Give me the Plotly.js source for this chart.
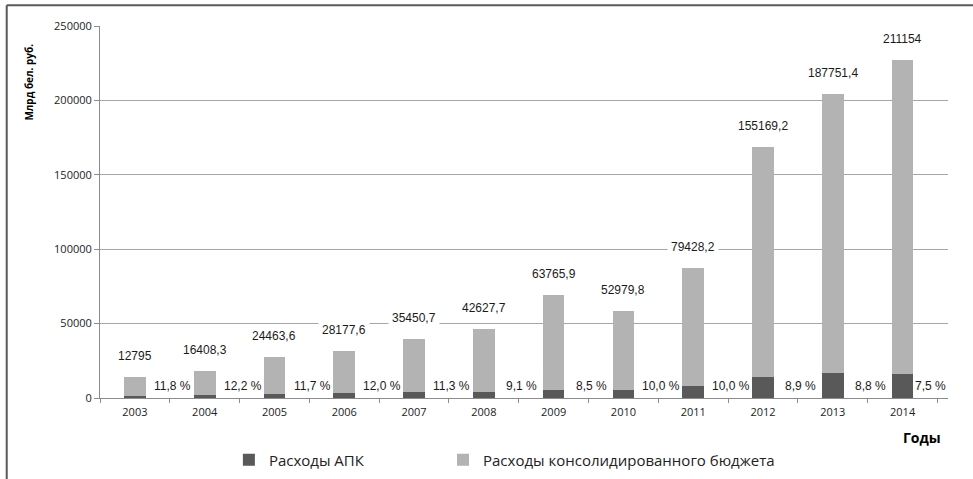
<!DOCTYPE html>
<html>
<head>
<meta charset="utf-8">
<script src="https://cdn.plot.ly/plotly-3.0.1.min.js"></script>
<style>
  html, body { margin: 0; padding: 0; background: #fff; }
  #chart { width: 973px; height: 479px; }
</style>
</head>
<body>
<div id="chart"></div>
<script>
// Data
const years = ['2003','2004','2005','2006','2007','2008','2009','2010','2011','2012','2013','2014'];
const budgetValues = [12795, 16408.3, 24463.6, 28177.6, 35450.7, 42627.7, 63765.9, 52979.8, 79428.2, 155169.2, 187751.4, 211154];
const apkValues = [1510, 2000, 2860, 3380, 4010, 3880, 5420, 5300, 7940, 13810, 16520, 15840];
const budgetLabels = ['12795','16408,3','24463,6','28177,6','35450,7','42627,7','63765,9','52979,8','79428,2','155169,2','187751,4','211154'];
const shareLabels = ['11,8 %','12,2 %','11,7 %','12,0 %','11,3 %','9,1 %','8,5 %','10,0 %','10,0 %','8,9 %','8,8 %','7,5 %'];
const seriesNames = ['Расходы АПК', 'Расходы консолидированного бюджета'];

const darkGray = '#595959';
const lightGray = '#b3b3b3';

const traces = [
  {
    type: 'bar', x: years, y: apkValues, name: seriesNames[0], legend: 'legend',
    marker: { color: darkGray, line: { width: 0 } }, hoverinfo: 'x+y'
  },
  {
    type: 'bar', x: years, y: budgetValues, name: seriesNames[1], legend: 'legend2',
    marker: { color: lightGray, line: { width: 0 } }, hoverinfo: 'x+y'
  }
];

const annotations = [];
years.forEach((yr, i) => {
  annotations.push({
    x: i, y: apkValues[i] + budgetValues[i], xref: 'x', yref: 'y',
    text: budgetLabels[i], showarrow: false, yanchor: 'middle', yshift: 21,
    font: { family: 'Liberation Sans, Arial, sans-serif', size: 12, color: '#1a1a1a' },
    bgcolor: '#ffffff', borderpad: 3
  });
  annotations.push({
    x: i + 0.5, y: 0, xref: 'x', yref: 'y',
    text: shareLabels[i], showarrow: false, yanchor: 'middle', yshift: 12,
    xshift: i === years.length - 1 ? -7 : 3,
    font: { family: 'Liberation Sans, Arial, sans-serif', size: 12, color: '#1a1a1a' }
  });
});
annotations.push({
  xref: 'paper', yref: 'paper', x: -0.084, y: 0.85, text: 'Млрд бел. руб.',
  textangle: -90, showarrow: false, xanchor: 'center', yanchor: 'middle',
  font: { family: 'Open Sans, sans-serif', size: 10, color: '#000', weight: 700 }
});
annotations.push({
  xref: 'paper', yref: 'paper', x: 0.969, y: -0.107, text: 'Годы',
  showarrow: false, xanchor: 'center', yanchor: 'middle',
  font: { family: 'Open Sans, sans-serif', size: 14, color: '#000', weight: 700 }
});

const legendFont = { family: 'Open Sans, sans-serif', size: 15, color: '#222' };

const layout = {
  width: 973, height: 479,
  margin: { l: 100, r: 25, t: 26, b: 81, autoexpand: false },
  barmode: 'stack',
  bargap: 0.69,
  paper_bgcolor: '#ffffff', plot_bgcolor: '#ffffff',
  font: { family: 'Open Sans, sans-serif', color: '#333' },
  showlegend: true,
  legend: {
    orientation: 'h', x: 0.152, xanchor: 'left', y: -0.167, yanchor: 'middle',
    font: legendFont, itemwidth: 30, bgcolor: 'rgba(0,0,0,0)'
  },
  legend2: {
    orientation: 'h', x: 0.4045, xanchor: 'left', y: -0.167, yanchor: 'middle',
    font: legendFont, itemwidth: 30, bgcolor: 'rgba(0,0,0,0)'
  },
  xaxis: {
    type: 'category', tickson: 'boundaries', ticks: 'outside', ticklen: 4,
    tickcolor: '#8c8c8c', showline: true, linecolor: '#8c8c8c', linewidth: 1,
    showgrid: false, ticklabelstandoff: 4,
    tickfont: { family: 'Open Sans, sans-serif', size: 11, color: '#222' },
    fixedrange: true
  },
  yaxis: {
    range: [0, 250000], dtick: 50000, tickformat: 'd', ticks: 'outside', ticklen: 5,
    tickcolor: '#8c8c8c', showline: true, linecolor: '#8c8c8c', linewidth: 1,
    gridcolor: '#a6a6a6', gridwidth: 1, zeroline: false,
    tickfont: { family: 'Open Sans, sans-serif', size: 11, color: '#222' },
    fixedrange: true
  },
  annotations: annotations,
  shapes: [
    { type: 'line', xref: 'paper', yref: 'paper', x0: -0.11, x1: 1.05, y0: 1.056, y1: 1.056,
      line: { color: '#595959', width: 2 } },
    { type: 'line', xref: 'paper', yref: 'paper', x0: -0.11, x1: -0.11, y0: 1.056, y1: -0.3,
      line: { color: '#595959', width: 2 } }
  ]
};

Plotly.newPlot('chart', traces, layout, { displayModeBar: false, staticPlot: true });
</script>
</body>
</html>
